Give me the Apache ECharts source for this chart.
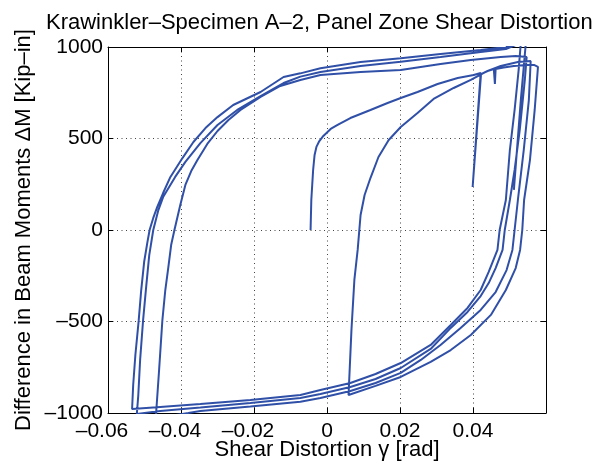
<!DOCTYPE html>
<html><head><meta charset="utf-8">
<script src="https://cdn.jsdelivr.net/npm/echarts@6/dist/echarts.min.js"></script>
<style>html,body{margin:0;padding:0;background:#fff}#c{width:603px;height:462px}</style>
</head><body><div id="c"></div>
<script>
// ---- tick values ----
const xTicks = [-0.06, -0.04, -0.02, 0, 0.02, 0.04];
const yTicks = [-1000, -500, 0, 500, 1000];

// ---- data: [shear distortion gamma (rad), moment difference dM (kip-in)] ----
const initialLoad = [[-0.0045,0],[-0.0043,164],[-0.0038,328],[-0.0034,410],[-0.0029,454],[-0.0021,486],[-0.0010,514],[0.0010,552],[0.0029,574],[0.0064,612],[0.0119,656],[0.0166,694],[0.0202,721],[0.0248,754],[0.0303,798],[0.0358,831],[0.0402,847],[0.0421,858],[0.0399,235],[0.0422,852],[0.0440,869],[0.0457,880],[0.0460,798],[0.0462,880],[0.0484,888],[0.0512,896],[0.0545,902],[0.0567,902],[0.0578,891]];
const unload1 = [[0.0569,656],[0.0556,382],[0.0540,164],[0.0535,0],[0.0529,-109],[0.0517,-208],[0.0490,-328],[0.0449,-464],[0.0394,-574],[0.0339,-656],[0.0284,-721],[0.0202,-803],[0.0133,-852],[0.0059,-902]];
const reload1 = [[0.0067,-546],[0.0075,-273],[0.0084,-109],[0.0092,82],[0.0103,191],[0.0119,284],[0.0141,399],[0.0169,492],[0.0202,563],[0.0248,639],[0.0292,716],[0.0347,776],[0.0394,820],[0.0440,869],[0.0476,896],[0.0523,918],[0.0558,923]];
const unload2 = [[0.0553,710],[0.0539,437],[0.0523,164],[0.0514,0],[0.0508,-109],[0.0492,-219],[0.0462,-339],[0.0421,-437],[0.0366,-535],[0.0311,-628],[0.0257,-710],[0.0202,-781],[0.0133,-836],[0.0064,-880],[-0.0018,-918],[-0.0073,-938],[-0.0210,-964],[-0.0347,-989],[-0.0380,-1000],[-0.0429,-1016],[-0.0469,-1027]];
const reload2 = [[-0.0468,-995],[-0.0460,-765],[-0.0451,-492],[-0.0443,-328],[-0.0435,-208],[-0.0427,-82],[-0.0418,0],[-0.0402,137],[-0.0388,246],[-0.0372,322],[-0.0355,382],[-0.0328,470],[-0.0300,541],[-0.0270,601],[-0.0237,656],[-0.0182,727],[-0.0128,787],[-0.0073,820],[-0.0018,847],[0.0092,863],[0.0202,874],[0.0311,907],[0.0394,929],[0.0476,945],[0.0517,951],[0.0547,945]];
const unload3 = [[0.0542,820],[0.0528,546],[0.0514,328],[0.0501,164],[0.0487,0],[0.0481,-109],[0.0462,-208],[0.0443,-290],[0.0421,-361],[0.0385,-448],[0.0339,-535],[0.0284,-650],[0.0202,-754],[0.0133,-814],[0.0064,-858],[-0.0018,-896],[-0.0073,-918],[-0.0210,-945],[-0.0347,-970],[-0.0457,-989],[-0.0521,-1005]];
const reload3 = [[-0.0517,-902],[-0.0512,-710],[-0.0504,-497],[-0.0495,-301],[-0.0487,-137],[-0.0476,0],[-0.0462,109],[-0.0449,180],[-0.0416,290],[-0.0388,372],[-0.0347,475],[-0.0300,574],[-0.0246,656],[-0.0182,732],[-0.0119,803],[-0.0073,838],[-0.0018,863],[0.0092,896],[0.0202,920],[0.0311,945],[0.0421,973],[0.0490,989],[0.0531,1022]];
const unload4 = [[0.0525,874],[0.0514,656],[0.0501,437],[0.0490,164],[0.0473,0],[0.0467,-109],[0.0443,-229],[0.0421,-328],[0.0385,-426],[0.0339,-519],[0.0284,-628],[0.0202,-727],[0.0133,-787],[0.0064,-836],[-0.0018,-874],[-0.0073,-902],[-0.0210,-929],[-0.0347,-951],[-0.0457,-967],[-0.0534,-978]];
const reload4 = [[-0.0531,-847],[-0.0525,-683],[-0.0516,-497],[-0.0509,-328],[-0.0501,-175],[-0.0492,-66],[-0.0486,0],[-0.0476,66],[-0.0465,126],[-0.0449,202],[-0.0429,290],[-0.0396,393],[-0.0366,481],[-0.0333,557],[-0.0300,617],[-0.0257,683],[-0.0182,754],[-0.0119,836],[-0.0073,856],[-0.0018,884],[0.0092,918],[0.0202,938],[0.0311,962],[0.0421,984],[0.0490,1000],[0.0525,1016],[0.0545,1027]];
const finalUnload = [[0.0531,710],[0.0512,219]];

const path = [].concat(initialLoad, unload1, reload1, unload2, reload2, unload3, reload3, unload4, reload4, finalUnload);

const FONT = 'Liberation Sans';
const FS = 21;
const FS_NAME = 22;
function fmtX(v) {
  const r = Math.round(v * 100) / 100;
  if (Math.abs(r) < 1e-9) return '{t|0}';
  if (r < 0) return '{t|\u2013' + Math.abs(r).toFixed(2) + '}{p| }';
  return '{t|' + r.toFixed(2) + '}';
}
function fmtY(v) {
  const r = Math.round(v);
  return r < 0 ? '\u2013' + Math.abs(r) : String(r);
}
const rich = { t: { fontFamily: FONT, fontSize: FS, color: '#000' }, p: { width: 12, fontSize: FS } };

const chart = echarts.init(document.getElementById('c'), null, { renderer: 'canvas' });
const gridLine = { show: true, lineStyle: { color: '#444', type: [1, 3.5], width: 1 } };
chart.setOption({
  animation: false,
  backgroundColor: '#fff',
  title: {
    text: 'Krawinkler\u2013Specimen A\u20132, Panel Zone Shear Distortion',
    left: 41, top: 7,
    textStyle: { fontFamily: FONT, fontSize: FS_NAME, fontWeight: 'normal', color: '#000' }
  },
  grid: { left: 108, right: 57, top: 47, bottom: 49, containLabel: false, outerBoundsMode: 'none' },
  xAxis: [{
    type: 'value', min: -0.06, max: 0.06, interval: 0.02,
    name: 'Shear Distortion \u03b3 [rad]', nameLocation: 'middle', nameGap: 26, nameMoveOverlap: false,
    nameTextStyle: { fontFamily: FONT, fontSize: FS_NAME, color: '#000' },
    axisLine: { show: true, onZero: false, lineStyle: { color: '#000', width: 1 } },
    axisTick: { show: true, inside: true, length: 5, lineStyle: { color: '#000' } },
    axisLabel: { margin: 8, showMaxLabel: false, formatter: fmtX, rich: rich },
    splitLine: gridLine
  }, {
    type: 'value', position: 'top', min: -0.06, max: 0.06, interval: 0.02,
    axisLine: { show: true, onZero: false, lineStyle: { color: '#000', width: 1 } },
    axisTick: { show: true, inside: true, length: 5, lineStyle: { color: '#000' } },
    axisLabel: { show: false }, splitLine: { show: false }
  }],
  yAxis: [{
    type: 'value', min: -1000, max: 1000, interval: 500,
    name: 'Difference in Beam Moments \u0394M [Kip\u2013in]', nameLocation: 'middle', nameGap: 73, nameMoveOverlap: false,
    nameTextStyle: { fontFamily: FONT, fontSize: FS_NAME, color: '#000' },
    axisLine: { show: true, onZero: false, lineStyle: { color: '#000', width: 1 } },
    axisTick: { show: true, inside: true, length: 5, lineStyle: { color: '#000' } },
    axisLabel: { margin: 5, formatter: fmtY, fontFamily: FONT, fontSize: FS, color: '#000' },
    splitLine: gridLine
  }, {
    type: 'value', position: 'right', min: -1000, max: 1000, interval: 500,
    axisLine: { show: true, onZero: false, lineStyle: { color: '#000', width: 1 } },
    axisTick: { show: true, inside: true, length: 5, lineStyle: { color: '#000' } },
    axisLabel: { show: false }, splitLine: { show: false }
  }],
  series: [{
    type: 'line', data: path, symbol: 'none', clip: true, smooth: false,
    xAxisIndex: 0, yAxisIndex: 0,
    lineStyle: { color: '#3050a8', width: 2 }
  }]
});
</script>
</body></html>
